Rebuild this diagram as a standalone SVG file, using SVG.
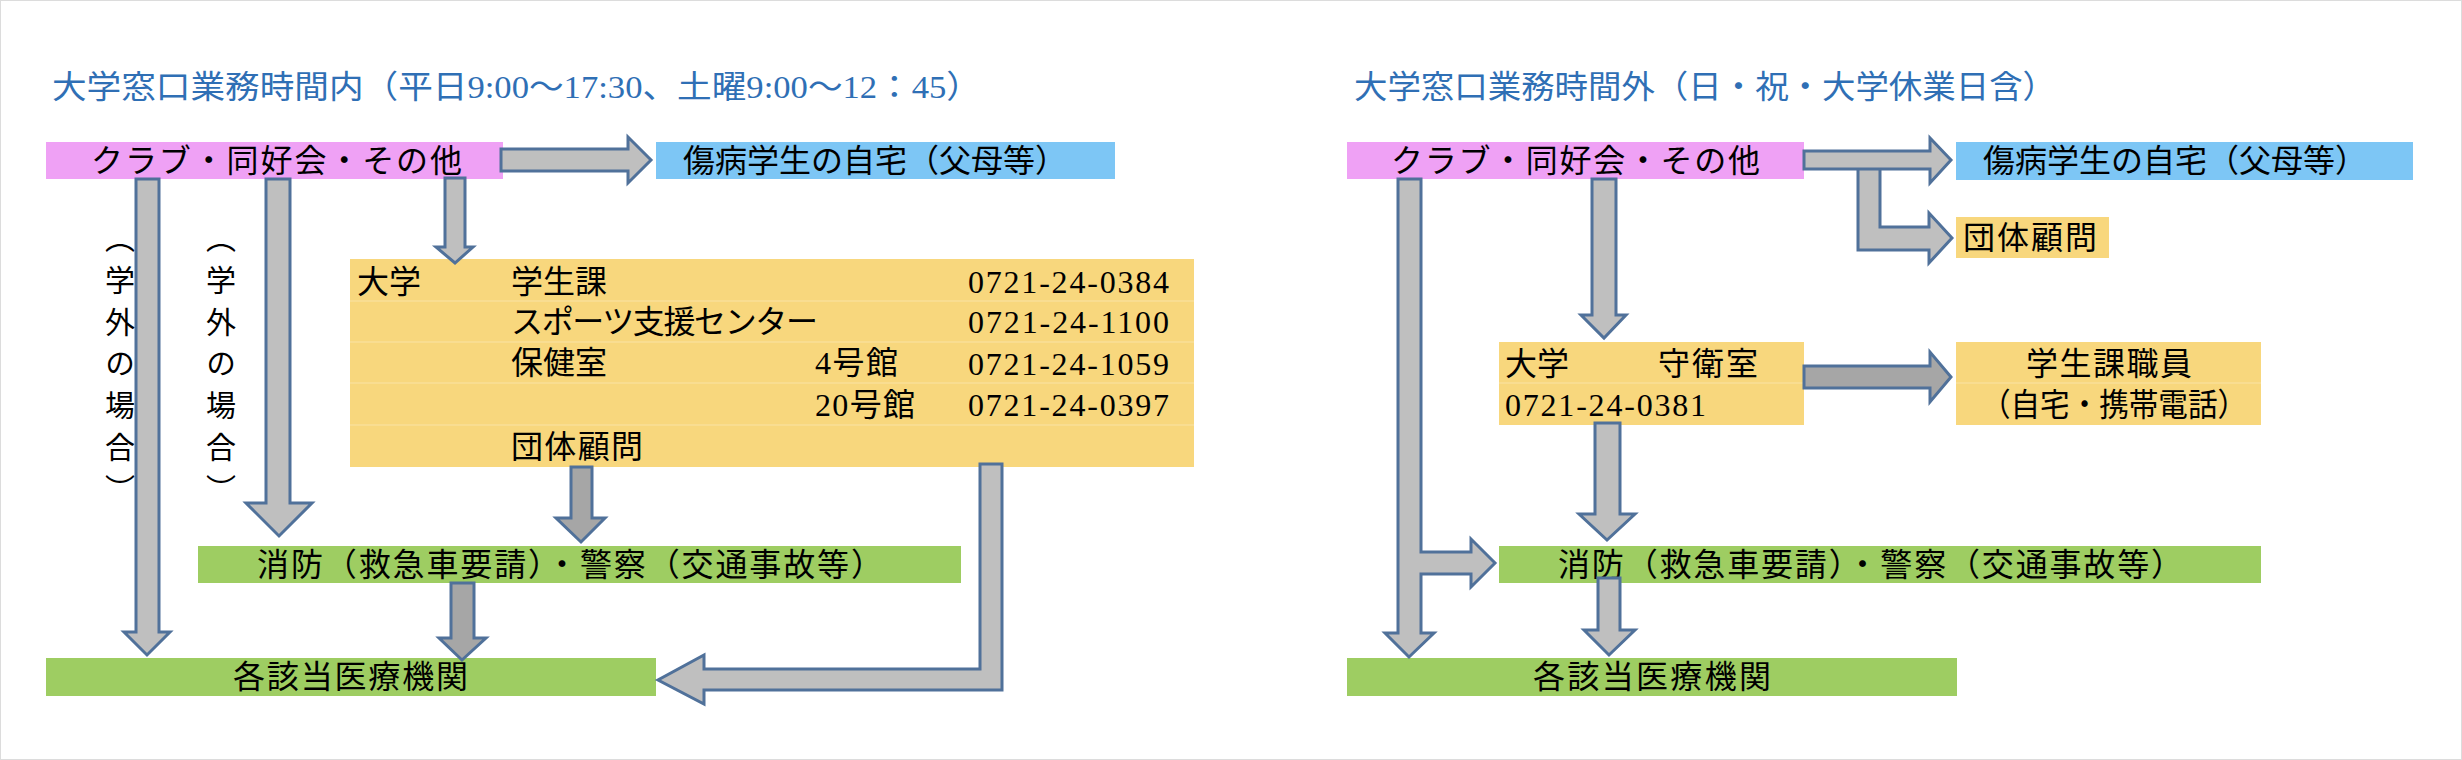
<svg xmlns="http://www.w3.org/2000/svg" width="2462" height="760" viewBox="0 0 2462 760">
<style>
text{font-family:"Liberation Serif","Noto Sans CJK JP",serif;font-size:32px;fill:#000}
.title{fill:#2F6FB5}
.pink{fill:#EFA1F5}
.blue{fill:#7DC6F5}
.yellow{fill:#F8D77D}
.green{fill:#9ECD62}
.row{stroke:#FADF98;stroke-width:1.5}
.arr{fill:#BFBFBF;stroke:#50719A;stroke-width:3;stroke-linejoin:miter}
.dark{fill:#A6A6A6}
.vert{writing-mode:vertical-rl;font-size:30px;letter-spacing:11.7px;font-family:"Noto Sans CJK JP",sans-serif}
.mid{text-anchor:middle}
</style>
<rect x="0.5" y="0.5" width="2461" height="759" fill="#FFFFFF" stroke="#DCDCDC"/>

<!-- Left panel -->
<text id="title-left" class="title" x="52" y="98" textLength="929" lengthAdjust="spacingAndGlyphs">大学窓口業務時間内（平日9:00～17:30、土曜9:00～12：45）</text>

<g id="L-club"><rect class="pink" x="46" y="142" width="457" height="37"/><text x="91" y="172" textLength="371">クラブ・同好会・その他</text></g>
<g id="L-home"><rect class="blue" x="656" y="142" width="459" height="37"/><text x="683" y="172" textLength="384">傷病学生の自宅（父母等）</text></g>
<g id="L-univ">
<rect class="yellow" x="350" y="259" width="844" height="208"/>
<line class="row" x1="350" y1="301" x2="1194" y2="301"/>
<line class="row" x1="350" y1="342" x2="1194" y2="342"/>
<line class="row" x1="350" y1="383" x2="1194" y2="383"/>
<line class="row" x1="350" y1="425" x2="1194" y2="425"/>
<text x="357" y="293">大学</text>
<text x="511" y="293">学生課</text>
<text x="968" y="293" textLength="201">0721-24-0384</text>
<text x="511" y="333" textLength="307">スポーツ支援センター</text>
<text x="968" y="333" textLength="201">0721-24-1100</text>
<text x="511" y="374">保健室</text>
<text x="815" y="374" textLength="83">4号館</text>
<text x="968" y="375" textLength="201">0721-24-1059</text>
<text x="815" y="416" textLength="100">20号館</text>
<text x="968" y="416" textLength="201">0721-24-0397</text>
<text x="511" y="458" textLength="132">団体顧問</text>
</g>
<g id="L-fire"><rect class="green" x="198" y="546" width="763" height="37"/><text x="257" y="576" textLength="626">消防（救急車要請）・警察（交通事故等）</text></g>
<g id="L-hosp"><rect class="green" x="46" y="658" width="610" height="38"/><text x="233" y="688" textLength="235">各該当医療機関</text></g>

<!-- Right panel -->
<text id="title-right" class="title" x="1354" y="98" textLength="702" lengthAdjust="spacingAndGlyphs">大学窓口業務時間外（日・祝・大学休業日含）</text>

<g id="R-club"><rect class="pink" x="1347" y="142" width="457" height="37"/><text x="1391" y="172" textLength="369">クラブ・同好会・その他</text></g>
<g id="R-home"><rect class="blue" x="1956" y="142" width="457" height="38"/><text x="1983" y="172" textLength="384">傷病学生の自宅（父母等）</text></g>
<g id="R-advisor"><rect class="yellow" x="1956" y="217" width="153" height="41"/><text x="1963" y="249" textLength="134">団体顧問</text></g>
<g id="R-guard">
<rect class="yellow" x="1499" y="342" width="305" height="83"/>
<line class="row" x1="1499" y1="383" x2="1804" y2="383"/>
<text x="1505" y="375">大学</text>
<text x="1658" y="375" textLength="100">守衛室</text>
<text x="1505" y="416" textLength="201">0721-24-0381</text>
</g>
<g id="R-staff">
<rect class="yellow" x="1956" y="342" width="305" height="83"/>
<line class="row" x1="1956" y1="383" x2="2261" y2="383"/>
<text x="2026" y="375" textLength="166">学生課職員</text>
<text x="1981" y="416" textLength="266" lengthAdjust="spacingAndGlyphs">（自宅・携帯電話）</text>
</g>
<g id="R-fire"><rect class="green" x="1499" y="546" width="762" height="37"/><text x="1558" y="576" textLength="625">消防（救急車要請）・警察（交通事故等）</text></g>
<g id="R-hosp"><rect class="green" x="1347" y="658" width="610" height="38"/><text x="1533" y="688" textLength="238">各該当医療機関</text></g>

<!-- Connectors -->
<g id="connectors">
<!-- left -->
<polygon class="arr" points="501,149 628,149 628,137 651,160 628,183 628,171 501,171"/>
<polygon class="arr" points="445,178 465,178 465,247 473,247 455,263 436,247 445,247"/>
<polygon class="arr" points="136,179 159,179 159,632 170,632 147,655 124,632 136,632"/>
<polygon class="arr" points="266,179 290,179 290,503 312,503 279,536 246,503 266,503"/>
<polygon class="arr dark" points="571,467 592,467 592,518 605,518 581,542 556,518 571,518"/>
<polygon class="arr dark" points="451,583 474,583 474,638 486,638 462,660 439,638 451,638"/>
<polygon class="arr" points="980,464 1002,464 1002,690 704,690 704,704 658,680 704,655 704,669 980,669"/>
<!-- right -->
<polygon class="arr" points="1858,165 1880,165 1880,227 1929,227 1929,213 1952,238 1929,263 1929,250 1858,250"/>
<polygon class="arr" points="1804,151 1930,151 1930,138 1951,160 1930,183 1930,169 1804,169"/>
<polygon class="arr" points="1398,179 1421,179 1421,552 1471,552 1471,539 1495,563 1471,587 1471,574 1421,574 1421,633 1434,633 1409,657 1385,633 1398,633"/>
<polygon class="arr" points="1592,179 1616,179 1616,315 1626,315 1604,338 1581,315 1592,315"/>
<polygon class="arr dark" points="1804,366 1930,366 1930,352 1951,377 1930,402 1930,388 1804,388"/>
<polygon class="arr" points="1595,423 1620,423 1620,514 1635,514 1607,540 1579,514 1595,514"/>
<polygon class="arr" points="1598,578 1620,578 1620,630 1635,630 1609,655 1584,630 1598,630"/>
</g>

<g id="L-note1"><text class="vert" x="120" y="223">（学外の場合）</text></g>
<g id="L-note2"><text class="vert" x="221" y="223">（学外の場合）</text></g>
</svg>
